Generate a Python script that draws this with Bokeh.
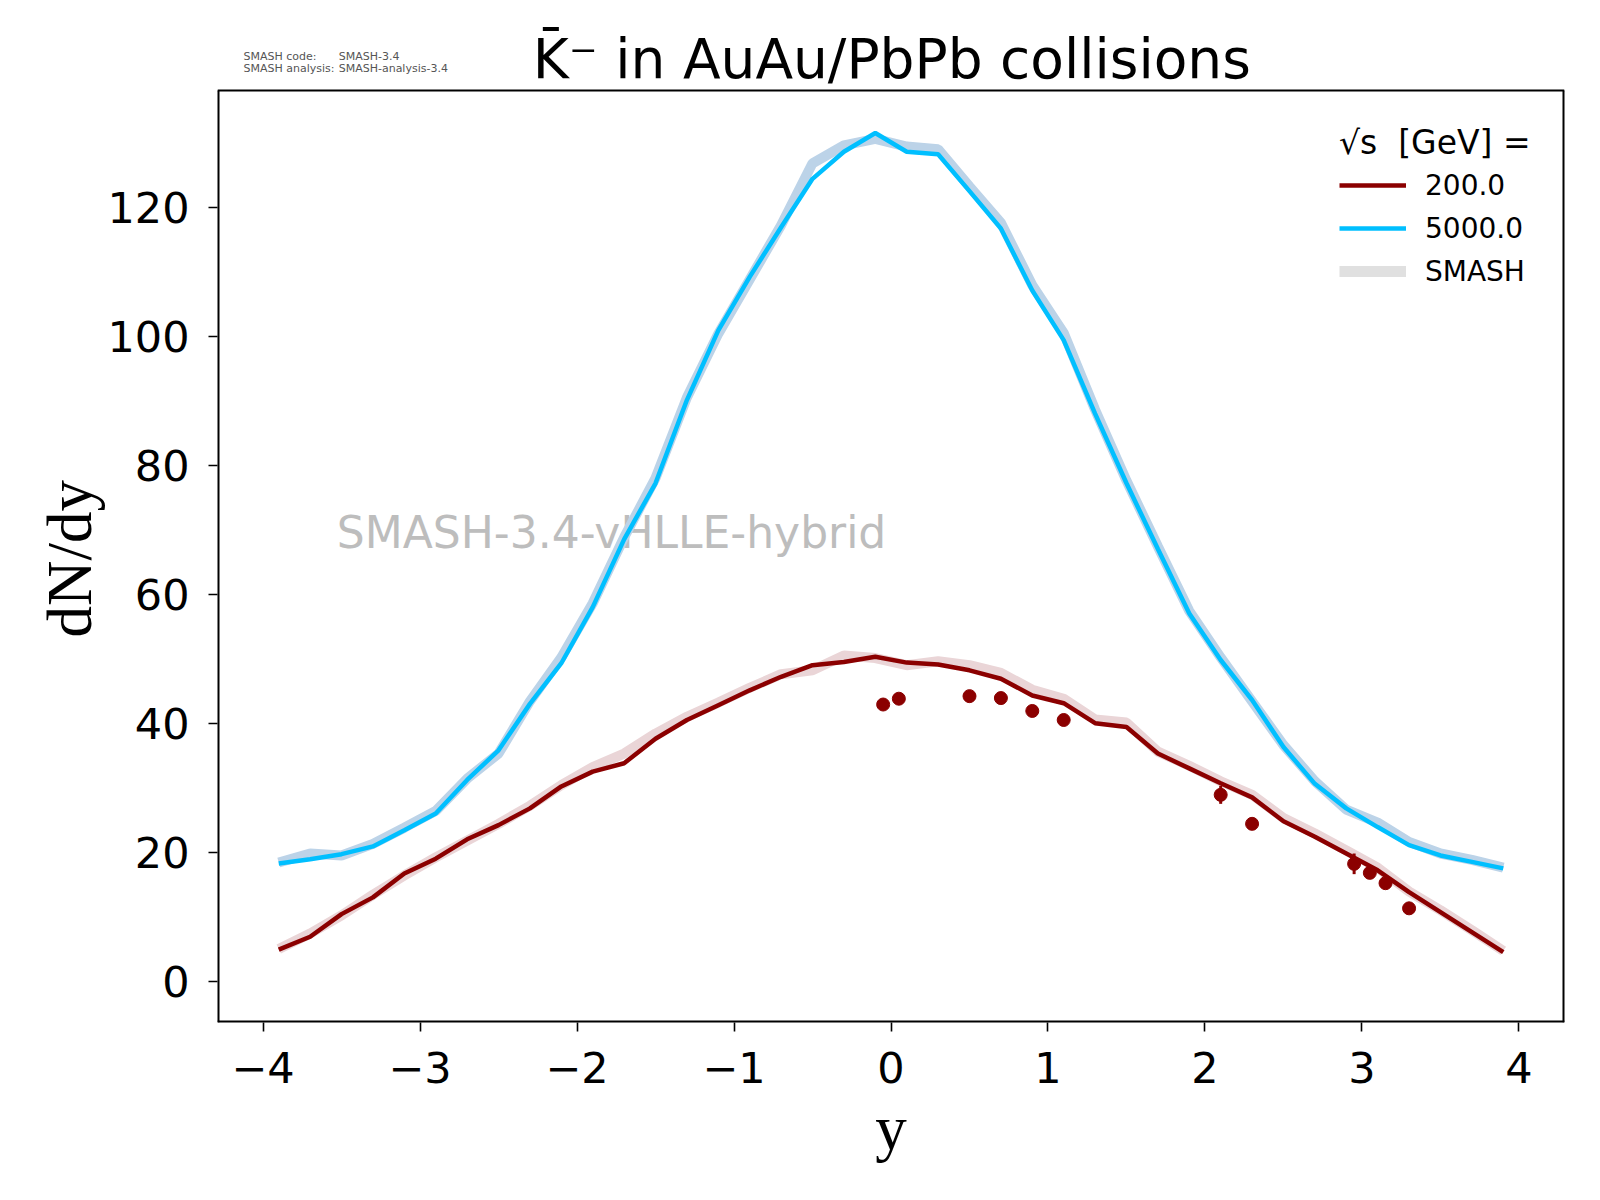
from bokeh.plotting import figure
from bokeh.models import Label, Legend, LegendItem, FixedTicker, Range1d, Title
from bokeh.embed import file_html
from bokeh.resources import INLINE

# rapidity bins
rap = [-3.9, -3.7, -3.5, -3.3, -3.1, -2.9, -2.7, -2.5, -2.3, -2.1,
       -1.9, -1.7, -1.5, -1.3, -1.1, -0.9, -0.7, -0.5, -0.3, -0.1,
       0.1, 0.3, 0.5, 0.7, 0.9, 1.1, 1.3, 1.5, 1.7, 1.9,
       2.1, 2.3, 2.5, 2.7, 2.9, 3.1, 3.3, 3.5, 3.7, 3.9]

# hybrid result, sqrt(s) = 200 GeV
dndy_200 = [4.9, 6.9, 10.4, 13.0, 16.7, 19.0, 22.0, 24.2, 26.8, 30.2,
            32.5, 33.8, 37.6, 40.5, 42.8, 45.1, 47.2, 49.0, 49.5, 50.3,
            49.4, 49.1, 48.2, 46.9, 44.3, 43.1, 40.0, 39.4, 35.3, 33.0,
            30.7, 28.5, 24.8, 22.4, 19.8, 17.2, 13.8, 10.7, 7.6, 4.5]
# SMASH reference band, 200 GeV
dndy_200_ref = [5.0, 7.4, 10.2, 13.4, 16.4, 19.2, 21.8, 24.4, 27.2, 30.4,
                33.2, 35.3, 38.4, 41.0, 43.2, 45.5, 47.6, 48.2, 50.5, 50.1,
                49.0, 49.6, 49.0, 47.8, 45.2, 43.8, 40.6, 40.1, 35.6, 33.4,
                31.0, 28.9, 25.3, 22.9, 20.3, 17.6, 13.9, 11.0, 7.9, 4.7]

# hybrid result, sqrt(s) = 5000 GeV
dndy_5000 = [18.25, 18.9, 19.7, 20.9, 23.4, 26.0, 31.2, 35.8, 43.0, 49.3,
             58.0, 68.5, 77.2, 90.1, 100.9, 109.2, 116.9, 124.4, 128.6, 131.5,
             128.6, 128.2, 122.5, 116.7, 107.1, 99.4, 88.0, 77.2, 67.0, 57.0,
             49.8, 43.6, 36.3, 30.6, 26.8, 23.9, 21.1, 19.5, 18.5, 17.5]
# SMASH reference band, 5000 GeV
dndy_5000_ref = [18.4, 19.8, 19.5, 21.3, 23.8, 26.4, 31.4, 35.3, 43.4, 50.2,
                 58.6, 68.8, 78.0, 90.5, 100.4, 108.8, 117.2, 126.8, 129.6, 130.6,
                 129.4, 129.0, 123.2, 117.6, 107.9, 100.5, 88.6, 77.6, 67.4, 57.4,
                 50.2, 43.4, 36.6, 31.0, 26.6, 24.6, 21.6, 19.8, 18.8, 17.6]

# experimental points, 200 GeV
exp_y = [-0.05, 0.05, 0.5, 0.7, 0.9, 1.1, 2.1, 2.3, 2.95, 3.05, 3.15, 3.3]
exp_dndy = [42.9, 43.8, 44.2, 43.9, 41.9, 40.5, 28.9, 24.4, 18.2, 16.8, 15.2, 11.3]
exp_err = [0.5, 0.5, 0.5, 0.5, 0.5, 0.5, 1.4, 0.6, 1.6, 0.6, 0.6, 0.5]

x_ticks = [-4, -3, -2, -1, 0, 1, 2, 3, 4]
y_ticks = [0, 20, 40, 60, 80, 100, 120]

RED = "#8b0000"
BLUE = "#00bfff"

# axes box limits; the frame itself reaches up to the canvas top so the
# title texts above the box can be drawn as labels
X0, X1, Y0, Y1 = -4.29, 4.29, -6.4, 138.1

p = figure(width=1584, height=1184, output_backend="svg", toolbar_location=None,
           title=None, x_range=Range1d(X0, X1), y_range=Range1d(Y0, 152.05),
           min_border_left=217, min_border_right=20, min_border_top=0,
           min_border_bottom=162)

p.grid.visible = False
p.outline_line_color = None
p.background_fill_color = "white"

for ax in (p.xaxis, p.yaxis):
    ax.axis_line_color = None
    ax.major_tick_out = 9
    ax.major_tick_in = 0
    ax.major_tick_line_width = 1.6
    ax.minor_tick_line_color = None
    ax.major_label_text_font = "DejaVu Sans"
    ax.major_label_text_font_size = "43px"
    ax.major_label_text_color = "black"

p.xaxis.ticker = FixedTicker(ticks=x_ticks)
p.yaxis.ticker = FixedTicker(ticks=y_ticks)
p.xaxis.major_label_overrides = {t: str(t).replace("-", "\u2212") for t in x_ticks}
p.xaxis.major_label_standoff = 20
p.yaxis.major_label_standoff = 19

p.xaxis.axis_label = "y"
p.xaxis.axis_label_text_font = "Liberation Serif"
p.xaxis.axis_label_text_font_size = "63px"
p.xaxis.axis_label_text_font_style = "normal"
p.xaxis.axis_label_text_color = "black"
p.xaxis.axis_label_standoff = 7

# y label as a side title, so it can be centred on the box, not the frame
p.add_layout(Title(text="dN/dy", align="left", offset=385, standoff=0,
                   text_font="Liberation Serif", text_font_size="63px",
                   text_font_style="normal", text_color="black"), "left")

# axes box
p.segment([X0, X1, X0], [Y0, Y0, Y0], [X0, X1, X1], [Y1, Y1, Y0],
          line_color="black", line_width=4)
p.segment([X0], [Y1], [X1], [Y1], line_color="black", line_width=2)

# watermark sits beneath the curves
p.add_layout(Label(x=-3.53, y=69.6, text="SMASH-3.4-vHLLE-hybrid",
                   text_font="DejaVu Sans", text_font_size="44px",
                   text_color="#bdbdbd", text_baseline="middle", level="underlay"))

# reference bands (thick, light) under the hybrid lines
p.line(rap, dndy_200_ref, line_color="#ead5d7", line_width=10)
p.line(rap, dndy_5000_ref, line_color="#bcd3e8", line_width=10)

r200 = p.line(rap, dndy_200, line_color=RED, line_width=4.5)
r5000 = p.line(rap, dndy_5000, line_color=BLUE, line_width=4.5)
# legend key only, drawn outside the visible range
smash_key = p.line([-10, -9], [-100, -100], line_color="#e0e0e0", line_width=11)

lo = [v - e for v, e in zip(exp_dndy, exp_err)]
hi = [v + e for v, e in zip(exp_dndy, exp_err)]
p.segment(exp_y, lo, exp_y, hi, line_color=RED, line_width=3)
p.scatter(exp_y, exp_dndy, size=13, fill_color=RED, line_color=RED)

legend = Legend(items=[LegendItem(label="200.0", renderers=[r200]),
                       LegendItem(label="5000.0", renderers=[r5000]),
                       LegendItem(label="SMASH", renderers=[smash_key])],
                location=(1122, 731), title="\u221as  [GeV] =")
legend.background_fill_alpha = 0
legend.border_line_color = None
legend.label_text_font = "DejaVu Sans"
legend.label_text_font_size = "28px"
legend.label_text_color = "black"
legend.title_text_font = "DejaVu Sans"
legend.title_text_font_size = "33px"
legend.title_text_font_style = "normal"
legend.title_text_color = "black"
legend.title_standoff = 3
legend.glyph_width = 67
legend.glyph_height = 40
legend.label_height = 40
legend.label_standoff = 19
legend.spacing = 3
legend.padding = 10
legend.margin = 0
p.add_layout(legend)

# title and version notes above the axes box
p.add_layout(Label(x=0.005, y=143.04, text="K\u0304\u207b in AuAu/PbPb collisions",
                   text_font="DejaVu Sans", text_font_size="55px",
                   text_color="black", text_align="center",
                   text_baseline="alphabetic"))

for txt, xv, yv in [("SMASH code:", -4.124, 143.37), ("SMASH-3.4", -3.518, 143.37),
                    ("SMASH analysis:", -4.124, 141.52), ("SMASH-analysis-3.4", -3.518, 141.52)]:
    p.add_layout(Label(x=xv, y=yv, text=txt, text_font="DejaVu Sans",
                       text_font_size="11px", text_color="#555555",
                       text_baseline="alphabetic"))

open("out.html", "w").write(file_html(p, INLINE))
